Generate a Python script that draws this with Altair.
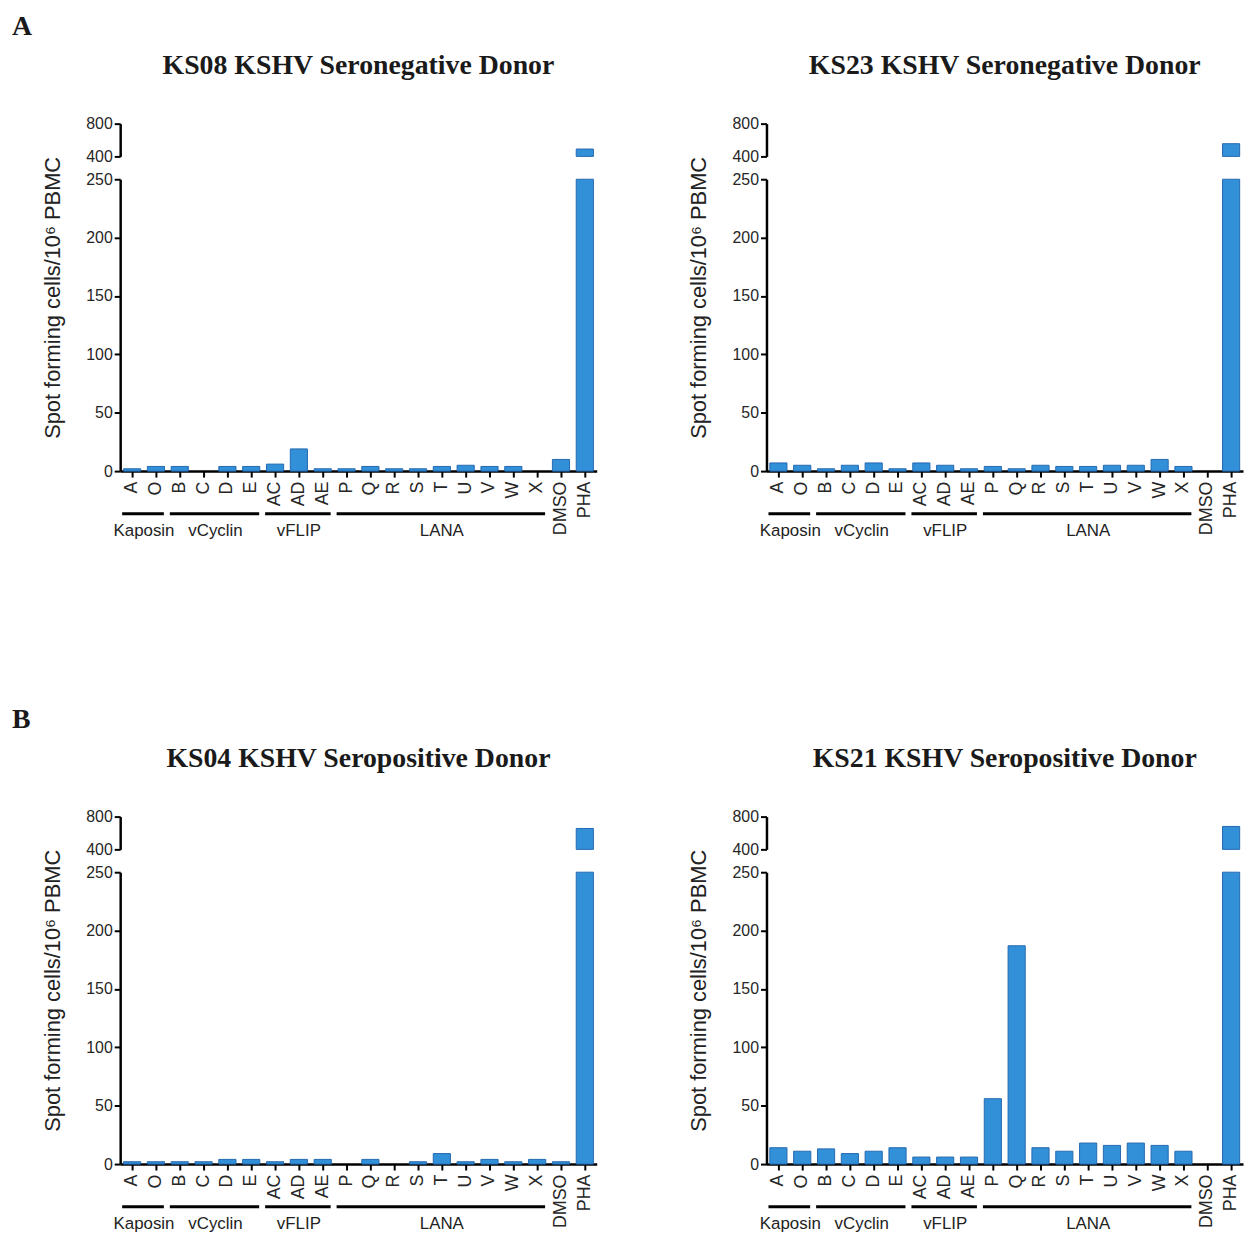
import altair as alt
import pandas as pd

# ---- data ----
peptides = ["A", "O", "B", "C", "D", "E", "AC", "AD", "AE", "P", "Q", "R",
            "S", "T", "U", "V", "W", "X", "DMSO", "PHA"]
ks08 = [2, 4, 4, 0, 4, 4, 6, 19, 2, 2, 4, 2, 2, 4, 5, 4, 4, 0, 10, 490]
ks23 = [7, 5, 2, 5, 7, 2, 7, 5, 2, 4, 2, 5, 4, 4, 5, 5, 10, 4, 0, 555]
ks04 = [2, 2, 2, 2, 4, 4, 2, 4, 4, 0, 4, 0, 2, 9, 2, 4, 2, 4, 2, 655]
ks21 = [14, 11, 13, 9, 11, 14, 6, 6, 6, 56, 187, 14, 11, 18, 16, 18, 16, 11, 0, 680]

group_names = ["Kaposin", "vCyclin", "vFLIP", "LANA"]
group_start = [0, 2, 6, 9]
group_end = [1, 5, 8, 17]

titles = ["KS08 KSHV Seronegative Donor", "KS23 KSHV Seronegative Donor",
          "KS04 KSHV Seropositive Donor", "KS21 KSHV Seropositive Donor"]
letters = ["A", "B"]
y_title = "Spot forming cells/10\u2076 PBMC"
lower_ticks = [0, 50, 100, 150, 200, 250]
upper_ticks = [400, 800]

# ---- style ----
W = 480
H_LOW = 294
H_UP = 33
GAP = 23
ROW_GAP = 348
COL_GAP = 171
FILL = "#3190d8"
EDGE = "#2469b0"
SANS = "Liberation Sans"
SERIF = "Liberation Serif"

xscale = alt.Scale(domain=peptides, paddingInner=0.28, paddingOuter=0.14)

axis_common = dict(domainColor="black", domainWidth=2.5, tickColor="black",
                   tickWidth=2, tickSize=6, labelColor="#262626",
                   labelFont=SANS, grid=False)


def upper_chart(values, title, letter=None):
    df = pd.DataFrame({"peptide": peptides, "value": values})
    up_bars = alt.Chart(df).transform_filter("datum.value > 400").mark_bar(
        color=FILL, stroke=EDGE, strokeWidth=1
    ).encode(
        x=alt.X("peptide:N", sort=peptides, scale=xscale, axis=None),
        y=alt.Y("value:Q", scale=alt.Scale(domain=[400, 800], nice=False, zero=False),
                axis=alt.Axis(values=upper_ticks, title=None, labelPadding=2,
                              labelFontSize=16, **axis_common)),
        y2=alt.datum(400),
    )
    title_layer = alt.Chart(pd.DataFrame({"t": [title]})).mark_text(
        font=SERIF, fontWeight="bold", fontSize=28, color="#1a1a1a",
        align="center", baseline="alphabetic"
    ).encode(text="t:N", x=alt.value(W / 2), y=alt.value(-50))
    layers = [up_bars, title_layer]
    if letter is not None:
        layers.append(alt.Chart(pd.DataFrame({"t": [letter]})).mark_text(
            font=SERIF, fontWeight="bold", fontSize=28, color="#1a1a1a",
            align="left", baseline="alphabetic"
        ).encode(text="t:N", x=alt.value(-109), y=alt.value(-89)))
    return alt.layer(*layers).properties(width=W, height=H_UP)


def lower_chart(values):
    df = pd.DataFrame({"peptide": peptides, "value": values})
    gdf = pd.DataFrame({"name": group_names, "s": group_start, "e": group_end})
    low_bars = alt.Chart(df).transform_filter("datum.value > 0").mark_bar(
        color=FILL, stroke=EDGE, strokeWidth=1
    ).encode(
        x=alt.X("peptide:N", sort=peptides, scale=xscale,
                axis=alt.Axis(title=None, labelAngle=270, labelPadding=4,
                              labelFontSize=18, **axis_common)),
        y=alt.Y("value:Q", scale=alt.Scale(domain=[0, 250], nice=False, clamp=True),
                axis=alt.Axis(values=lower_ticks, title=y_title, titleFont=SANS,
                              titleFontSize=22, titleFontWeight="normal",
                              titleColor="#222222", titleAngle=270,
                              titleX=-56, titleY=(H_LOW - H_UP - GAP) / 2,
                              titleAlign="center", titleBaseline="bottom",
                              labelPadding=2, labelFontSize=16, **axis_common)),
    )
    gx = alt.Scale(domain=[-0.5, len(peptides) - 0.5], nice=False, zero=False)
    g_rules = alt.Chart(gdf).mark_rule(
        color="black", strokeWidth=3, xOffset=-10, x2Offset=8
    ).encode(
        x=alt.X("s:Q", scale=gx, axis=None),
        x2="e:Q",
        y=alt.value(H_LOW + 43),
    )
    g_text = alt.Chart(gdf).transform_calculate(
        m="(datum.s + datum.e) / 2"
    ).mark_text(font=SANS, fontSize=17, color="#222222", align="center",
                baseline="middle").encode(
        x=alt.X("m:Q", scale=gx, axis=None),
        y=alt.value(H_LOW + 60),
        text="name:N",
    )
    return alt.layer(low_bars, g_rules, g_text).resolve_scale(x="independent").properties(
        width=W, height=H_LOW)


def spacer():
    return alt.Chart(pd.DataFrame({"t": [""]})).mark_text().encode(
        text="t:N").properties(width=W, height=ROW_GAP - 2 * GAP)


chart = alt.concat(
    upper_chart(ks08, titles[0], letters[0]), upper_chart(ks23, titles[1]),
    lower_chart(ks08), lower_chart(ks23),
    spacer(), spacer(),
    upper_chart(ks04, titles[2], letters[1]), upper_chart(ks21, titles[3]),
    lower_chart(ks04), lower_chart(ks21),
    columns=2, spacing={"row": GAP, "column": COL_GAP}, bounds="flush",
).properties(
    padding={"top": 1, "left": 4, "right": 2, "bottom": 5}
).configure(background="white").configure_view(stroke=None)

chart.save("out.html", embed_options={"renderer": "svg", "actions": False})
